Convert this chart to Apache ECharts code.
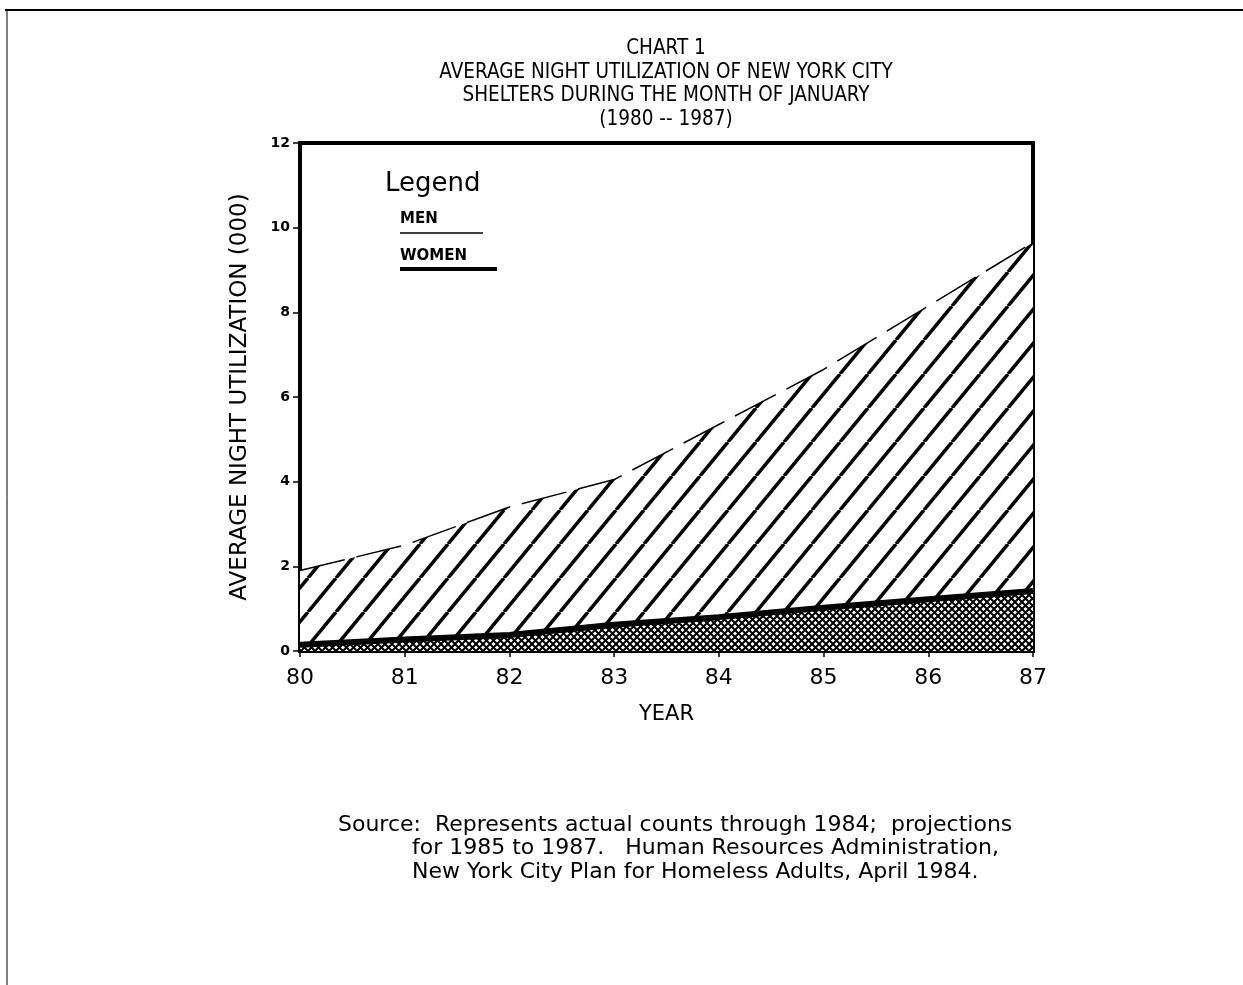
<!DOCTYPE html>
<html><head><meta charset="utf-8">
<script src="https://cdn.jsdelivr.net/npm/echarts@6/dist/echarts.min.js"></script>
<style>html,body{margin:0;padding:0;background:#fff}#c{width:1243px;height:985px}</style>
</head><body><div id="c"></div>
<script>
var years = [80, 81, 82, 83, 84, 85, 86, 87];
var men = [1.9, 2.5, 3.4, 4.05, 5.35, 6.65, 8.15, 9.65];
var women = [0.15, 0.27, 0.38, 0.62, 0.8, 1.02, 1.22, 1.42];
var yTicks = [0, 2, 4, 6, 8, 10, 12];
var titleLines = ['CHART 1', 'AVERAGE NIGHT UTILIZATION OF NEW YORK CITY', 'SHELTERS DURING THE MONTH OF JANUARY', '(1980 -- 1987)'];
var sourceLines = ['Source:  Represents actual counts through 1984;  projections', 'for 1985 to 1987.   Human Resources Administration,', 'New York City Plan for Homeless Adults, April 1984.'];

function hatch() {
  var W = 28, H = 34, c = document.createElement('canvas');
  c.width = W; c.height = H;
  var g = c.getContext('2d');
  g.fillStyle = '#fff'; g.fillRect(0, 0, W, H);
  g.strokeStyle = '#000'; g.lineWidth = 3.5;
  for (var k = -1; k <= 1; k++) { g.beginPath(); g.moveTo(k * W, H); g.lineTo(k * W + W, 0); g.stroke(); }
  return c;
}
function cross() {
  var S = 7, c = document.createElement('canvas');
  c.width = S; c.height = S;
  var g = c.getContext('2d');
  g.fillStyle = '#fff'; g.fillRect(0, 0, S, S);
  g.strokeStyle = '#000'; g.lineWidth = 2;
  g.beginPath(); g.moveTo(-1, -1); g.lineTo(S + 1, S + 1); g.moveTo(-1, S + 1); g.lineTo(S + 1, -1); g.stroke();
  return c;
}
function pairs(a) { return years.map(function (y, i) { return [y, a[i]]; }); }

var chart = echarts.init(document.getElementById('c'), null, { renderer: 'canvas' });
var titleFont = '"Liberation Sans Narrow","DejaVu Sans Condensed",sans-serif';
var bodyFont = '"DejaVu Sans",sans-serif';
var graphics = [
  { type: 'line', shape: { x1: 5, y1: 10, x2: 1243, y2: 10 }, style: { stroke: '#000', lineWidth: 2 } },
  { type: 'line', shape: { x1: 7, y1: 10, x2: 7, y2: 985 }, style: { stroke: '#000', lineWidth: 1 } },
  { type: 'text', left: 385, top: 171, style: { text: 'Legend', font: '26px ' + bodyFont, fill: '#000' } },
  { type: 'text', left: 400, top: 212, style: { text: 'MEN', font: 'bold 15px ' + bodyFont, fill: '#000' } },
  { type: 'line', shape: { x1: 400, y1: 233, x2: 483, y2: 233 }, style: { stroke: '#000', lineWidth: 1.5 } },
  { type: 'text', left: 400, top: 249, style: { text: 'WOMEN', font: 'bold 15px ' + bodyFont, fill: '#000' } },
  { type: 'line', shape: { x1: 400, y1: 269, x2: 497, y2: 269 }, style: { stroke: '#000', lineWidth: 4 } }
];
titleLines.forEach(function (t, i) {
  graphics.push({ type: 'text', x: 666, y: 49 + i * 23.5, style: { text: t, font: '20.5px ' + titleFont, fill: '#000', align: 'center', verticalAlign: 'middle' } });
});
sourceLines.forEach(function (t, i) {
  graphics.push({ type: 'text', x: i === 0 ? 338 : 412, y: 825 + i * 23.5, style: { text: t, font: '22px ' + bodyFont, fill: '#000', align: 'left', verticalAlign: 'middle' } });
});

chart.setOption({
  animation: false,
  backgroundColor: '#fff',
  grid: { left: 300, right: 210, top: 143, bottom: 334, show: true, borderColor: '#000', borderWidth: 4, backgroundColor: 'transparent' },
  xAxis: {
    type: 'value', min: 80, max: 87, interval: 1,
    name: 'YEAR', nameLocation: 'middle', nameGap: 53,
    nameTextStyle: { fontFamily: bodyFont, fontSize: 21, color: '#000' },
    axisLine: { show: true, lineStyle: { color: '#000', width: 4 } },
    axisTick: { show: true, length: 6, lineStyle: { color: '#000', width: 1.5 } },
    axisLabel: { fontFamily: bodyFont, fontSize: 22, color: '#000', margin: 16 },
    splitLine: { show: false }
  },
  yAxis: {
    type: 'value', min: 0, max: 12, interval: 2,
    name: 'AVERAGE NIGHT UTILIZATION (000)', nameLocation: 'middle', nameGap: 48, nameRotate: 90,
    nameTextStyle: { fontFamily: bodyFont, fontSize: 23, color: '#000' },
    axisLine: { show: true, lineStyle: { color: '#000', width: 4 } },
    axisTick: { show: true, length: 7, lineStyle: { color: '#000', width: 1.5 } },
    axisLabel: { fontFamily: bodyFont, fontSize: 14, fontWeight: 'bold', color: '#000', margin: 10,
      formatter: function (v) { return yTicks.indexOf(v) >= 0 ? String(v) : ''; } },
    splitLine: { show: false }
  },
  series: [
    { name: 'MEN', type: 'line', data: pairs(men), symbol: 'none', z: 2,
      lineStyle: { color: '#000', width: 1.5, type: [46, 12] },
      areaStyle: { origin: 'start', opacity: 1, color: { image: hatch(), repeat: 'repeat' } } },
    { name: 'WOMEN', type: 'line', data: pairs(women), symbol: 'none', z: 3,
      lineStyle: { color: '#000', width: 6 },
      areaStyle: { origin: 'start', opacity: 1, color: { image: cross(), repeat: 'repeat' } } }
  ],
  graphic: graphics
});
</script></body></html>
